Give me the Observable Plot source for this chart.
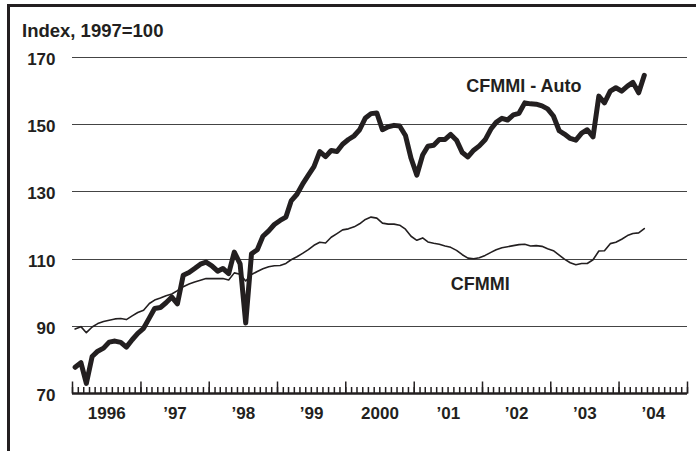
<!DOCTYPE html>
<html><head><meta charset="utf-8">
<script src="https://cdn.jsdelivr.net/npm/d3@7"></script>
<script src="https://cdn.jsdelivr.net/npm/@observablehq/plot@0.6"></script>
<style>
html,body{margin:0;padding:0;background:#fff;}
#wrap{position:relative;width:696px;height:451px;overflow:hidden;}
#frame{position:absolute;left:7px;top:4px;right:-10px;bottom:-10px;border-left:3px solid #231f20;border-top:3px solid #231f20;}
#title{position:absolute;left:22px;top:22px;font:bold 18.5px "Liberation Sans",Arial,sans-serif;line-height:18px;color:#231f20;white-space:nowrap;}
#chart{position:absolute;left:0;top:0;}
</style></head><body>
<div id="wrap"><div id="frame"></div><div id="chart"></div><div id="title">Index, 1997=100</div></div>
<script>
// Monthly values, Jan 1996 – May 2004
const autoValues = [
77.8, 79.2, 73.0, 81.0, 82.6, 83.5, 85.3, 85.6, 85.2, 83.8, 86.0, 87.9,
89.4, 92.5, 95.3, 95.6, 97.0, 98.7, 96.7, 105.2, 106.0, 107.2, 108.5, 109.1,
108.0, 106.4, 107.2, 105.7, 112.1, 108.6, 91.0, 111.6, 112.8, 116.8, 118.4, 120.3,
121.5, 122.5, 127.3, 129.3, 132.3, 135.0, 137.5, 142.0, 140.5, 142.3, 142.0, 144.2,
145.6, 146.7, 148.5, 152.0, 153.3, 153.5, 148.5, 149.4, 149.8, 149.6, 146.8, 140.0,
135.0, 141.0, 143.6, 143.9, 145.6, 145.6, 147.1, 145.4, 141.7, 140.4, 142.4, 143.7,
145.5, 148.7, 150.7, 151.9, 151.4, 152.9, 153.4, 156.5, 156.2, 156.1, 155.6, 154.7,
152.6, 148.2, 147.2, 145.9, 145.4, 147.5, 148.5, 146.4, 158.5, 156.5, 160.0, 161.0,
160.0, 161.5, 162.6, 159.5, 164.7
];
const cfmmiValues = [
89.2, 89.9, 88.1, 89.8, 90.8, 91.4, 91.8, 92.2, 92.3, 92.0, 93.1, 94.1,
94.8, 96.8, 97.8, 98.4, 99.1, 99.6, 100.6, 101.8, 102.6, 103.2, 103.7, 104.2,
104.2, 104.2, 104.2, 103.8, 105.9, 105.5, 103.5, 105.4, 106.3, 107.1, 107.7, 108.0,
108.1, 108.7, 109.8, 110.7, 111.7, 112.8, 114.1, 115.0, 114.8, 116.5, 117.6, 118.7,
119.0, 119.6, 120.5, 121.8, 122.5, 122.2, 120.7, 120.4, 120.4, 120.1, 118.9, 116.8,
115.6, 116.3, 115.1, 114.7, 114.4, 113.9, 113.5, 112.6, 111.3, 110.3, 110.1, 110.4,
111.1, 112.0, 112.8, 113.4, 113.7, 114.0, 114.3, 114.4, 113.9, 114.0, 113.8, 113.1,
112.5, 111.2, 110.0, 108.9, 108.3, 108.7, 108.7, 109.8, 112.4, 112.5, 114.6, 115.0,
115.9, 117.0, 117.6, 117.8, 119.1
];
const yTicks = [70, 90, 110, 130, 150, 170];
const gridValues = [90, 110, 130, 150, 170];
const yearLabels = ["1996", "’97", "’98", "’99", "2000", "’01", "’02", "’03", "’04"];
const seriesLabels = [
  {name: "CFMMI - Auto", date: "2002-08-10", value: 161.5},
  {name: "CFMMI", date: "2001-12-20", value: 102.4}
];

const ink = "#231f20";
const dateOf = i => new Date(Date.UTC(1996, i, 15));
const autoRows = autoValues.map((v, i) => ({date: dateOf(i), value: v}));
const cfmmiRows = cfmmiValues.map((v, i) => ({date: dateOf(i), value: v}));
const x0 = new Date(Date.UTC(1996, 0, 1)), x1 = new Date(Date.UTC(2005, 0, 1));
const months = d3.utcMonth.range(x0, new Date(Date.UTC(2005, 0, 2)));
const years = d3.utcYear.range(x0, new Date(Date.UTC(2005, 0, 2)));
const midYears = yearLabels.map((_, i) => new Date(Date.UTC(1996 + i, 6, 2)));

// upward tick symbol: a vertical stroke of length r above the anchor point
const tickUp = {draw(context, size) { const l = Math.sqrt(size / Math.PI); context.moveTo(0, 0); context.lineTo(0, -l); }};

const chart = Plot.plot({
  width: 696, height: 451,
  marginLeft: 72, marginRight: 9, marginTop: 57, marginBottom: 58,
  x: {type: "utc", domain: [x0, x1]},
  y: {domain: [70, 170]},
  style: {fontFamily: "'Liberation Sans', Arial, sans-serif", fontSize: "17px", fontWeight: "bold", color: ink, background: "transparent", overflow: "visible"},
  marks: [
    Plot.ruleY(gridValues, {stroke: "#444", strokeWidth: 1, shapeRendering: "crispEdges"}),
    Plot.dot(months, {x: d => d, y: 70, r: 6.5, symbol: tickUp, stroke: ink, fill: "none", strokeWidth: 1.5}),
    Plot.dot(years, {x: d => d, y: 70, r: 12, symbol: tickUp, stroke: ink, fill: "none", strokeWidth: 1.5}),
    Plot.ruleY([70], {stroke: ink, strokeWidth: 2.4}),
    Plot.line(cfmmiRows, {x: "date", y: "value", stroke: ink, strokeWidth: 1.6, strokeLinejoin: "round"}),
    Plot.line(autoRows, {x: "date", y: "value", stroke: ink, strokeWidth: 5, strokeLinejoin: "round", strokeLinecap: "round"}),
    Plot.axisY(yTicks, {anchor: "left", tickSize: 0, tickPadding: 17, dy: 2, fill: ink, label: null}),
    Plot.axisX(midYears, {anchor: "bottom", tickSize: 0, tickPadding: 13, fill: ink, label: null,
      tickFormat: d => yearLabels[d.getUTCFullYear() - 1996]}),
    Plot.text(seriesLabels, {x: d => new Date(d.date), y: "value", text: "name", fill: ink, fontSize: 18})
  ]
});
document.getElementById("chart").appendChild(chart);
</script>
</body></html>
